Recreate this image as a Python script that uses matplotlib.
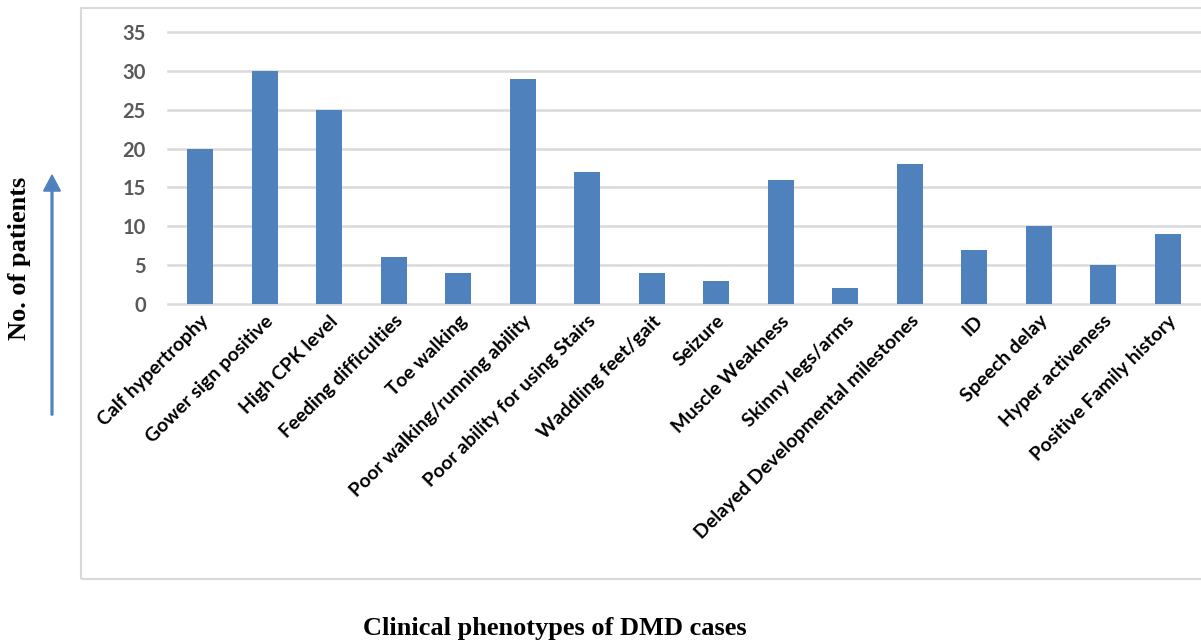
import matplotlib.pyplot as plt
from matplotlib.patches import Rectangle, FancyArrow

# data
phenotypes = ['Calf hypertrophy', 'Gower sign positive', 'High CPK level', 'Feeding difficulties',
              'Toe walking', 'Poor walking/running ability', 'Poor ability for using Stairs',
              'Waddling feet/gait', 'Seizure', 'Muscle Weakness', 'Skinny legs/arms',
              'Delayed Developmental milestones', 'ID', 'Speech delay', 'Hyper activeness',
              'Positive Family history']
patients = [20, 30, 25, 6, 4, 29, 17, 4, 3, 16, 2, 18, 7, 10, 5, 9]

W, H = 1201, 642
fig = plt.figure(figsize=(W / 100, H / 100), dpi=100)

# outer chart frame
fig.patches.append(Rectangle((81 / W, 1 - 579 / H), 1.2, (579 - 8) / H,
                             transform=fig.transFigure, fill=False,
                             edgecolor='#d9d9d9', linewidth=1.5))

ax = fig.add_axes([168 / W, 1 - 304 / H, 1032 / W, 272 / H])
x = range(len(phenotypes))
ax.bar(x, patients, width=0.4, color='#4f81bd', zorder=3)
ax.set_xlim(-0.5, len(phenotypes) - 0.5)
ax.set_ylim(0, 35)
ax.set_yticks(range(0, 36, 5))
ax.grid(axis='y', color='#d9d9d9', linewidth=1.8, zorder=0)
for g in ax.get_ygridlines():
    g.set_clip_on(False)
for s in ax.spines.values():
    s.set_visible(False)
ax.tick_params(length=0)
ax.tick_params(axis='y', pad=16)
ax.tick_params(axis='x', pad=6)

for t in ax.get_yticklabels():
    t.set_fontfamily('Lato')
    t.set_fontweight('bold')
    t.set_fontsize(14.5)
    t.set_color('#595959')

ax.set_xticks(list(x))
ax.set_xticklabels(phenotypes, rotation=45, ha='right', rotation_mode='anchor',
                   fontfamily='Lato', fontweight='bold', fontsize=14, color='black')

fig.text(555 / W, 1 - 628 / H, 'Clinical phenotypes of DMD cases', ha='center', va='center',
         fontfamily='Liberation Serif', fontweight='bold', fontsize=19)
fig.text(20 / W, 1 - 258 / H, 'No. of patients', ha='center', va='center', rotation=90,
         fontfamily='Liberation Serif', fontweight='bold', fontsize=19)

# arrow beside y label
fig.patches.append(FancyArrow(52 / W, 1 - 415 / H, 0, (415 - 175) / H - 0.025,
                              width=0.0015, head_width=0.014, head_length=0.025,
                              length_includes_head=False, transform=fig.transFigure,
                              color='#4f81bd'))

fig.savefig('out.png', dpi=100)
